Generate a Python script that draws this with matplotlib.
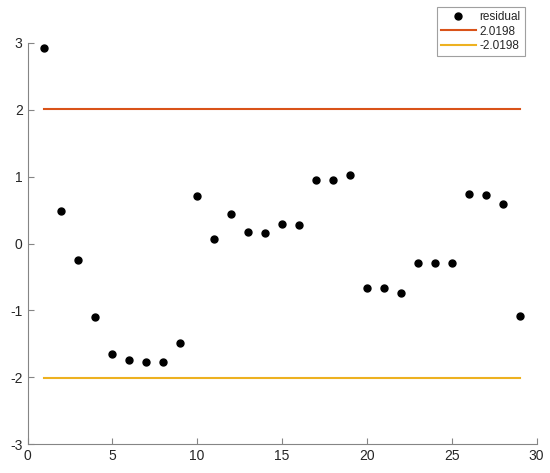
import numpy as np
import matplotlib
matplotlib.use("Agg")
import matplotlib.pyplot as plt

plt.rcParams['font.family'] = ['Liberation Sans', 'DejaVu Sans']
plt.rcParams['axes.unicode_minus'] = False

idx = np.arange(1, 30)
residual = [2.93, 0.485, -0.24, -1.10, -1.65, -1.745, -1.77, -1.78, -1.49, 0.714,
            0.066, 0.445, 0.17, 0.16, 0.285, 0.27, 0.95, 0.955, 1.02, -0.66,
            -0.67, -0.74, -0.29, -0.29, -0.29, 0.735, 0.72, 0.59, -1.087]
limit = 2.0198

fig = plt.figure(figsize=(5.5, 4.73), dpi=100)
ax = fig.add_axes([0.05, 0.0613, 0.9255, 0.8478])

ax.plot(idx, residual, 'o', color='black', markersize=5, label='residual')
ax.plot([idx[0], idx[-1]], [limit, limit], color='#D95319', lw=1.5, label=f'{limit:.4f}')
ax.plot([idx[0], idx[-1]], [-limit, -limit], color='#EDB120', lw=1.5, label=f'{-limit:.4f}')

ax.set_xlim(0, 30)
ax.set_ylim(-3, 3)
ax.set_xticks(range(0, 31, 5))
ax.set_yticks(range(-3, 4))
ax.spines['top'].set_visible(False)
ax.spines['right'].set_visible(False)
for s in ['left', 'bottom']:
    ax.spines[s].set_color('#858585')
    ax.spines[s].set_linewidth(0.8)
ax.tick_params(direction='in', length=4, color='#858585', labelsize=10, labelcolor='#262626')

# legend sits above the axes, top right of the figure
leg = ax.legend(loc='upper right', bbox_to_anchor=(0.9545, 0.985), bbox_transform=fig.transFigure,
                borderaxespad=0, fontsize=8.5, frameon=True, fancybox=False, edgecolor='#888888',
                handlelength=2.9, borderpad=0.35, labelspacing=0.2, handletextpad=0.35)
leg.get_frame().set_linewidth(0.8)
for t in leg.get_texts():
    t.set_color('#262626')

fig.savefig('out.png', dpi=100)
